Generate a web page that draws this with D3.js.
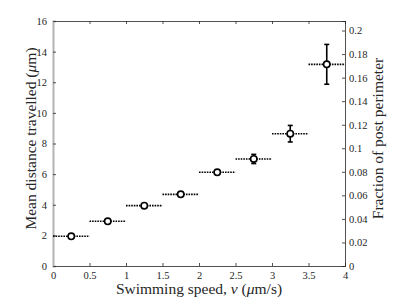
<!DOCTYPE html>
<html lang="en">
<head>
<meta charset="UTF-8">
<script src="https://d3js.org/d3.v7.min.js"></script>
<style>
  body { margin: 0; background: #fff; }
  text { font-family: "Liberation Serif", "DejaVu Serif", serif; fill: #262626; }
</style>
</head>
<body>
<div id="chart"></div>
<script>
  const width = 407;
  const height = 305;
  const margin = { top: 21, right: 62, bottom: 39, left: 53 };
  const plotWidth = width - margin.left - margin.right;
  const plotHeight = height - margin.top - margin.bottom;

  // data
  const speeds = [0.25, 0.75, 1.25, 1.75, 2.25, 2.75, 3.25, 3.75];
  const distances = [1.94, 2.92, 3.94, 4.68, 6.12, 6.99, 8.64, 13.17];
  const distErrors = [0.08, 0.08, 0.1, 0.1, 0.12, 0.3, 0.54, 1.3];
  const speedHalfWidth = [0.25, 0.25, 0.25, 0.25, 0.25, 0.25, 0.25, 0.25];

  const xTicks = [0, 0.5, 1, 1.5, 2, 2.5, 3, 3.5, 4];
  const yTicks = [0, 2, 4, 6, 8, 10, 12, 14, 16];
  const y2Ticks = [0, 0.02, 0.04, 0.06, 0.08, 0.1, 0.12, 0.14, 0.16, 0.18, 0.2];

  const svg = d3.select("#chart").append("svg")
    .attr("width", width)
    .attr("height", height);

  const g = svg.append("g")
    .attr("transform", `translate(${margin.left},${margin.top})`);

  const x = d3.scaleLinear().domain([0, 4]).range([0, plotWidth]);
  const y = d3.scaleLinear().domain([0, 16]).range([plotHeight, 0]);
  const y2 = d3.scaleLinear().domain([0, 0.2081]).range([plotHeight, 0]);

  const fmt = d => String(d);

  // bottom axis
  const xAxis = g.append("g")
    .attr("transform", `translate(0,${plotHeight})`)
    .call(d3.axisBottom(x).tickValues(xTicks).tickSize(-3).tickPadding(6).tickFormat(fmt));
  // top line
  const xTop = g.append("g")
    .call(d3.axisTop(x).tickValues(xTicks).tickSize(-3).tickFormat(""));
  // right axis
  const yRight = g.append("g")
    .attr("transform", `translate(${plotWidth},0)`)
    .call(d3.axisRight(y2).tickValues(y2Ticks).tickSize(-3).tickPadding(4).tickFormat(fmt));
  // left axis
  const yLeft = g.append("g")
    .call(d3.axisLeft(y).tickValues(yTicks).tickSize(-3).tickPadding(6));

  [xAxis, xTop, yRight].forEach(a => {
    a.select(".domain").attr("stroke", "#262626").attr("stroke-width", 0.8);
    a.selectAll(".tick line").attr("stroke", "#262626").attr("stroke-width", 0.8);
  });
  yLeft.select(".domain").attr("stroke", "#b4b4b4").attr("stroke-width", 2);
  yLeft.selectAll(".tick line").attr("stroke", "#262626").attr("stroke-width", 0.8);

  svg.selectAll("g").attr("font-family", null);
  svg.selectAll(".tick text")
    .attr("font-size", 10.5)
    .attr("fill", "#262626");

  // horizontal dotted bars
  g.selectAll(".hbar")
    .data(speeds)
    .enter().append("line")
    .attr("class", "hbar")
    .attr("x1", (d, i) => x(d - speedHalfWidth[i]))
    .attr("x2", (d, i) => x(d + speedHalfWidth[i]))
    .attr("y1", (d, i) => y(distances[i]))
    .attr("y2", (d, i) => y(distances[i]))
    .attr("stroke", "#000")
    .attr("stroke-width", 1.6)
    .attr("stroke-dasharray", "1.6,1");

  // vertical error bars
  const vbar = g.selectAll(".vbar")
    .data(speeds)
    .enter().append("g")
    .attr("class", "vbar");
  vbar.append("line")
    .attr("x1", d => x(d)).attr("x2", d => x(d))
    .attr("y1", (d, i) => y(distances[i] - distErrors[i]))
    .attr("y2", (d, i) => y(distances[i] + distErrors[i]))
    .attr("stroke", "#000").attr("stroke-width", 1.6);
  [-1, 1].forEach(s => {
    vbar.append("line")
      .attr("x1", d => x(d) - 2.5).attr("x2", d => x(d) + 2.5)
      .attr("y1", (d, i) => y(distances[i] + s * distErrors[i]))
      .attr("y2", (d, i) => y(distances[i] + s * distErrors[i]))
      .attr("stroke", "#000").attr("stroke-width", 1.6);
  });

  // markers
  g.selectAll("circle")
    .data(speeds)
    .enter().append("circle")
    .attr("cx", d => x(d))
    .attr("cy", (d, i) => y(distances[i]))
    .attr("r", 3.2)
    .attr("fill", "#fff")
    .attr("stroke", "#000")
    .attr("stroke-width", 1.6);

  // axis labels
  g.append("text")
    .attr("x", plotWidth / 2)
    .attr("y", plotHeight + 28)
    .attr("text-anchor", "middle")
    .attr("font-size", 15.5)
    .html('Swimming speed, <tspan font-style="italic">v</tspan> (<tspan font-style="italic">μ</tspan>m/s)');

  g.append("text")
    .attr("transform", `translate(${-17},${plotHeight / 2 - 5}) rotate(-90)`)
    .attr("text-anchor", "middle")
    .attr("font-size", 15.5)
    .html('Mean distance travelled (<tspan font-style="italic">μ</tspan>m)');

  g.append("text")
    .attr("transform", `translate(${plotWidth + 38},${plotHeight / 2 - 5}) rotate(-90)`)
    .attr("text-anchor", "middle")
    .attr("font-size", 15.5)
    .text("Fraction of post perimeter");
</script>
</body>
</html>
